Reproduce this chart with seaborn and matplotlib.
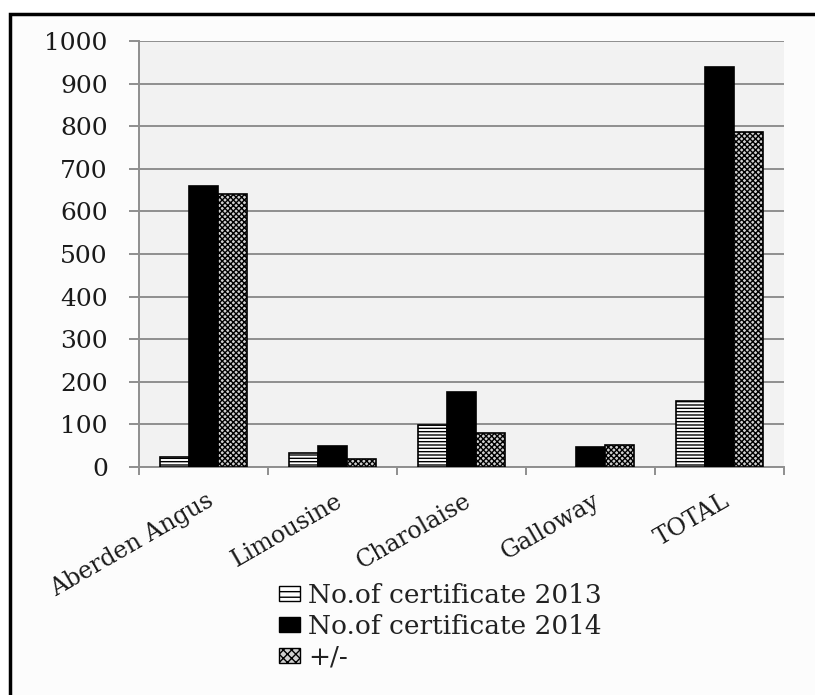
import matplotlib
matplotlib.use("Agg")
import matplotlib.pyplot as plt
import matplotlib.patches as mpatches
import matplotlib.transforms as mtransforms
import seaborn as sns
import pandas as pd
import numpy as np

categories = ["Aberden Angus", "Limousine", "Charolaise", "Galloway", "TOTAL"]
series_names = ["No.of certificate 2013", "No.of certificate 2014", "+/-"]
cert_2013 = [23, 33, 99, 0, 154]
cert_2014 = [660, 50, 175, 48, 940]
diff = [640, 19, 79, 51, 787]
y_ticks = [0, 100, 200, 300, 400, 500, 600, 700, 800, 900, 1000]

rows = []
for name, vals in zip(series_names, [cert_2013, cert_2014, diff]):
    for c, v in zip(categories, vals):
        rows.append({"breed": c, "series": name, "value": v})
df = pd.DataFrame(rows)

sns.set_theme(style="white")
plt.rcParams['font.family'] = ['DejaVu Serif']
plt.rcParams['hatch.linewidth'] = 1.0

fig = plt.figure(figsize=(8.15, 6.95), dpi=100)
fig.patch.set_facecolor("white")
W, H = 815, 695
# outer frame
frame = mpatches.Rectangle((10 / W, -0.05), 1.2, (H - 14) / H + 0.05, transform=fig.transFigure,
                           facecolor="#fcfcfc", edgecolor="black", linewidth=2.5, zorder=-10)
fig.patches.append(frame)

ax = fig.add_axes([139 / W, 1 - 467 / H, (784 - 139) / W, (467 - 41) / H])
ax.set_facecolor("#f2f2f2")

palette = {series_names[0]: "white", series_names[1]: "black", series_names[2]: "#d0d0d0"}
sns.barplot(data=df, x="breed", y="value", hue="series", palette=palette,
            order=categories, hue_order=series_names, width=0.68, ax=ax,
            edgecolor="black", linewidth=1.2, legend=False, zorder=3)

hatches = ["-----", "", "xxxxxx"]
for i, cont in enumerate(ax.containers):
    for bar in cont:
        bar.set_hatch(hatches[i])
        bar.set_edgecolor("black")
        if bar.get_height() == 0:
            bar.set_visible(False)

grid_c = "#8f8f8f"
ax.set_ylim(0, 1000)
ax.set_xlim(-0.5, len(categories) - 0.5)
ax.set_yticks(y_ticks)
ax.set_yticklabels([str(t) for t in y_ticks], fontsize=18, color="#1a1a1a")
ax.yaxis.grid(True, color=grid_c, linewidth=1.4, zorder=0)
ax.set_axisbelow(True)
ax.set_xlabel("")
ax.set_ylabel("")
for s in ["top", "right"]:
    ax.spines[s].set_visible(False)
for s in ["left", "bottom"]:
    ax.spines[s].set_color(grid_c)
    ax.spines[s].set_linewidth(1.4)
ax.tick_params(axis="y", which="major", direction="out", length=7.5, width=1.4, color=grid_c,
               left=True, pad=15)
ax.set_xticks(range(len(categories)))
ax.set_xticklabels(categories, rotation=30, ha="right", va="center", rotation_mode="anchor",
                   fontsize=17, color="#1a1a1a")
ax.tick_params(axis="x", which="major", length=0, pad=23)
offset = mtransforms.ScaledTranslation(8 / 100, 0, fig.dpi_scale_trans)
for lab in ax.get_xticklabels():
    lab.set_transform(lab.get_transform() + offset)
ax.set_xticks(np.arange(-0.5, len(categories), 1.0), minor=True)
ax.tick_params(axis="x", which="minor", direction="out", length=6, width=1.4, color=grid_c, bottom=True)

handles = [mpatches.Patch(facecolor=palette[n], edgecolor="black", hatch=h, label=n)
           for n, h in zip(series_names, ["---", "", "xxxx"])]
leg = fig.legend(handles=handles, loc="upper left", bbox_to_anchor=(279 / W, 1 - 583 / H),
                 frameon=False, fontsize=19, handlelength=0.8, handleheight=0.5,
                 handletextpad=0.3, labelspacing=0.22, borderaxespad=0, borderpad=0)
for t in leg.get_texts():
    t.set_color("#222222")

fig.savefig("out.png", dpi=100, facecolor=fig.get_facecolor())
